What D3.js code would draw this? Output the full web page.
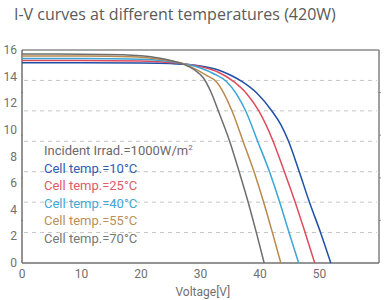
<!DOCTYPE html>
<html>
<head>
<meta charset="utf-8">
<script src="https://cdn.jsdelivr.net/npm/d3@7"></script>
<style>
  html, body { margin: 0; padding: 0; background: #fff; }
  svg { display: block; }
  .tick-label { font-family: Roboto, sans-serif; font-size: 12px; fill: #707070; }
  .legend { font-family: Roboto, sans-serif; font-size: 13px; }
</style>
</head>
<body>
<div id="iv-chart"></div>
<script>
// -------------------------------------------------------------------------
// Data (voltage V, current A)

const temperatures = [10, 25, 40, 55, 70];
const seriesColors = ['#1f4fa6', '#e04b5c', '#3ca5d6', '#b98a4c', '#6e6e6e'];
const legendColors = ['#2f5db0', '#e05a68', '#45a8d6', '#bb9058', '#777777'];

const curve10 = [[0, 15.05], [10, 15.04], [20, 15.02], [25, 14.98], [27.4, 14.93], [30, 14.8],
  [33, 14.5], [35, 14.12], [37, 13.62], [39.5, 12.75], [42, 11.42], [43.5, 10.4], [44.8, 9.15],
  [46.6, 6.85], [48.3, 4.58], [50.2, 2.26], [51.9, 0]];
const curve25 = [[0, 15.22], [10, 15.21], [20, 15.17], [25, 15.05], [27.4, 14.95], [30, 14.75],
  [33, 14.33], [35.6, 13.62], [37.8, 12.7], [39.8, 11.42], [42.2, 9.15], [44.1, 6.85],
  [45.9, 4.58], [47.6, 2.26], [49.2, 0]];
const curve40 = [[0, 15.37], [10, 15.36], [20, 15.3], [24, 15.17], [27.4, 14.95], [30, 14.65],
  [32.3, 14.2], [34.4, 13.62], [37.6, 11.42], [39.6, 9.15], [41.6, 6.85], [43.3, 4.58],
  [44.9, 2.26], [46.5, 0]];
const curve55 = [[0, 15.55], [10, 15.54], [18, 15.5], [21, 15.42], [24, 15.25], [27.4, 14.92],
  [29, 14.6], [31, 14.1], [32.7, 13.6], [35.3, 11.42], [37.15, 9.15], [39, 6.85],
  [40.6, 4.58], [42.1, 2.26], [43.5, 0]];
const curve70 = [[0, 15.7], [10, 15.69], [17, 15.65], [20, 15.57], [23, 15.4], [25.5, 15.15],
  [27.4, 14.88], [29, 14.5], [30.5, 13.9], [31.7, 12.9], [33, 11.42], [34.9, 9.15], [36.5, 6.85],
  [38, 4.58], [39.4, 2.26], [40.7, 0]];
const curves = [curve10, curve25, curve40, curve55, curve70];

const xTicks = [0, 10, 20, 30, 40, 50];
const yTicks = [0, 2, 4, 6, 8, 10, 12, 14, 16];

// -------------------------------------------------------------------------
// Layout

const width = 389;
const height = 300;
const margin = {top: 50, right: 10, bottom: 37, left: 22};
const plotW = width - margin.left - margin.right;
const plotH = height - margin.top - margin.bottom;

const svg = d3.select('#iv-chart')
  .append('svg')
  .attr('width', width)
  .attr('height', height);

svg.append('text')
  .attr('x', 14)
  .attr('y', 20)
  .attr('font-family', '"Open Sans", sans-serif')
  .attr('font-size', 16)
  .attr('fill', '#5a5a5a')
  .text('I-V curves at different temperatures (420W)');

const g = svg.append('g')
  .attr('transform', `translate(${margin.left},${margin.top})`);

const x = d3.scaleLinear().domain([0, 60]).range([0, plotW]);
const y = d3.scaleLinear().domain([0, 16]).range([plotH, 0]);

// dashed grid divides the frame in 7 bands, side notches in 5
const grid = d3.scaleLinear().domain([0, 7]).range([plotH, 0]);
const notch = d3.scaleLinear().domain([0, 5]).range([plotH, 0]);

g.selectAll('line.grid')
  .data(d3.range(1, 7))
  .enter()
  .append('line')
  .attr('class', 'grid')
  .attr('x1', 2).attr('x2', plotW - 2)
  .attr('y1', d => grid(d)).attr('y2', d => grid(d))
  .attr('stroke', '#c4c4c4')
  .attr('stroke-width', 1)
  .attr('stroke-dasharray', '4,4');

g.selectAll('line.notch')
  .data(d3.range(1, 5))
  .enter()
  .append('line')
  .attr('class', 'notch')
  .attr('x1', -1).attr('x2', 1)
  .attr('y1', d => notch(d)).attr('y2', d => notch(d))
  .attr('stroke', '#999');
g.selectAll('line.notch-r')
  .data(d3.range(1, 5))
  .enter()
  .append('line')
  .attr('class', 'notch-r')
  .attr('x1', plotW).attr('x2', plotW + 2)
  .attr('y1', d => notch(d)).attr('y2', d => notch(d))
  .attr('stroke', '#999');

// frame
g.append('line')
  .attr('x1', 0).attr('x2', plotW).attr('y1', 0).attr('y2', 0)
  .attr('stroke', '#a8a8a8').attr('stroke-width', 2);
g.append('line')
  .attr('x1', plotW).attr('x2', plotW).attr('y1', 0).attr('y2', plotH)
  .attr('stroke', '#808080').attr('stroke-width', 1.5);
g.append('line')
  .attr('x1', 0).attr('x2', 0).attr('y1', 0).attr('y2', plotH)
  .attr('stroke', '#707070').attr('stroke-width', 1.5);
g.append('line')
  .attr('x1', 0).attr('x2', plotW).attr('y1', plotH).attr('y2', plotH)
  .attr('stroke', '#707070').attr('stroke-width', 1.5);

// tick labels
g.selectAll('text.xl')
  .data(xTicks)
  .enter()
  .append('text')
  .attr('class', 'tick-label')
  .attr('x', d => x(d))
  .attr('y', plotH + 15)
  .attr('text-anchor', 'middle')
  .text(d => d);

g.selectAll('text.yl')
  .data(yTicks)
  .enter()
  .append('text')
  .attr('class', 'tick-label')
  .attr('x', -5)
  .attr('y', d => y(d) + 4)
  .attr('text-anchor', 'end')
  .text(d => d);

g.append('text')
  .attr('class', 'tick-label')
  .attr('x', x(30.4))
  .attr('y', plotH + 33)
  .attr('text-anchor', 'middle')
  .text('Voltage[V]');

// curves
const line = d3.line()
  .x(d => x(d[0]))
  .y(d => y(d[1]))
  .curve(d3.curveMonotoneX);

g.selectAll('path.iv')
  .data(curves)
  .enter()
  .append('path')
  .attr('class', 'iv')
  .attr('fill', 'none')
  .attr('stroke', (d, i) => seriesColors[i])
  .attr('stroke-width', 1.5)
  .attr('d', line);

// legend
const legend = g.append('g').attr('transform', 'translate(22,105)');
legend.append('text')
  .attr('class', 'legend')
  .attr('font-size', 12)
  .attr('fill', '#6a6a6a')
  .attr('y', 0)
  .html('Incident Irrad.=1000W/m<tspan dy="-5" font-size="8">2</tspan>');

legend.selectAll('text.cell')
  .data(temperatures)
  .enter()
  .append('text')
  .attr('class', 'legend cell')
  .attr('y', (d, i) => 17.5 * (i + 1))
  .attr('fill', (d, i) => legendColors[i])
  .text(d => `Cell temp.=${d}°C`);
</script>
</body>
</html>
